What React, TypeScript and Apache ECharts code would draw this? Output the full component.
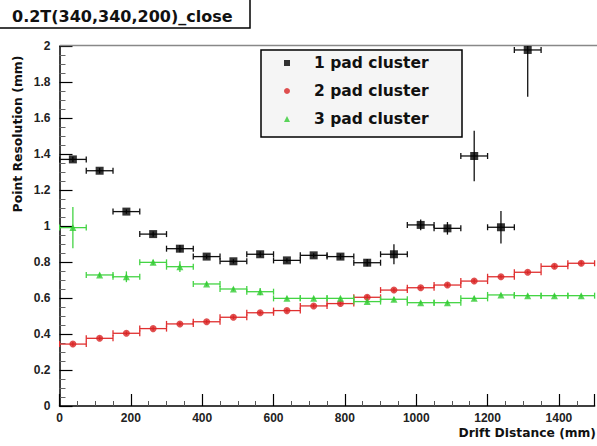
import React, { useEffect, useRef } from "react";
import * as echarts from "echarts";

// Bin centres (mm) of the drift-distance bins, each 75 mm wide
const binCenters = [
  37.5, 112.5, 187.5, 262.5, 337.5, 412.5, 487.5, 562.5, 637.5, 712.5,
  787.5, 862.5, 937.5, 1012.5, 1087.5, 1162.5, 1237.5, 1312.5, 1387.5, 1462.5,
];
const BIN_HALF = 37.5;

const seriesNames = ["1 pad cluster", "2 pad cluster", "3 pad cluster"];

const onePad = [
  1.37, 1.307, 1.08, 0.955, 0.874, 0.83, 0.804, 0.843, 0.809, 0.837, 0.83,
  0.796, 0.843, 1.006, 0.987, 1.389, 0.993, 1.978,
];
const onePadErr = [
  0.015, 0.015, 0.012, 0.015, 0.02, 0.012, 0.012, 0.015, 0.012, 0.012, 0.015,
  0.02, 0.055, 0.03, 0.035, 0.14, 0.09, 0.26,
];

const twoPad = [
  0.344, 0.376, 0.404, 0.43, 0.456, 0.468, 0.493, 0.518, 0.53, 0.556, 0.569,
  0.604, 0.644, 0.657, 0.672, 0.694, 0.718, 0.743, 0.776, 0.793,
];
const twoPadErr = [
  0.012, 0.01, 0.01, 0.01, 0.01, 0.01, 0.01, 0.01, 0.01, 0.01, 0.01, 0.012,
  0.012, 0.01, 0.012, 0.012, 0.01, 0.01, 0.012, 0.012,
];

const threePad = [
  0.991, 0.728, 0.718, 0.798, 0.774, 0.678, 0.65, 0.635, 0.598, 0.598, 0.598,
  0.58, 0.593, 0.574, 0.574, 0.598, 0.617, 0.613, 0.613, 0.613,
];
const threePadErr = [
  0.115, 0.012, 0.03, 0.015, 0.03, 0.012, 0.01, 0.02, 0.01, 0.01, 0.01, 0.01,
  0.012, 0.01, 0.01, 0.012, 0.01, 0.01, 0.01, 0.01,
];

const xTicks = [0, 200, 400, 600, 800, 1000, 1200, 1400];
const yTicks = [0, 0.2, 0.4, 0.6, 0.8, 1, 1.2, 1.4, 1.6, 1.8, 2];

const colors = ["#000000", "#d82424", "#33cc33"];
const errColors = ["#111111", "#e03030", "#44d444"];

const TITLE = "0.2T(340,340,200)_close";
const X_TITLE = "Drift Distance (mm)";
const Y_TITLE = "Point Resolution (mm)";

function makeErrSeries(vals: number[], errs: number[], color: string) {
  return {
    type: "custom",
    clip: true,
    silent: true,
    z: 2,
    data: vals.map((v, i) => [binCenters[i], v, errs[i]]),
    renderItem: (params: any, api: any) => {
      const x = api.value(0);
      const y = api.value(1);
      const e = api.value(2);
      const l = api.coord([x - BIN_HALF, y]);
      const r = api.coord([x + BIN_HALF, y]);
      const t = api.coord([x, y + e]);
      const b = api.coord([x, y - e]);
      const st = { stroke: color, lineWidth: 1.3 };
      const cap = 3;
      return {
        type: "group",
        children: [
          { type: "line", shape: { x1: l[0], y1: l[1], x2: r[0], y2: r[1] }, style: st },
          { type: "line", shape: { x1: t[0], y1: t[1], x2: b[0], y2: b[1] }, style: st },
          { type: "line", shape: { x1: l[0], y1: l[1] - cap, x2: l[0], y2: l[1] + cap }, style: st },
          { type: "line", shape: { x1: r[0], y1: r[1] - cap, x2: r[0], y2: r[1] + cap }, style: st },
        ],
      };
    },
  };
}

export default function App() {
  const ref = useRef<HTMLDivElement>(null);
  useEffect(() => {
    if (!ref.current) return;
    const chart = echarts.init(ref.current, null, { renderer: "svg" });
    const tickFont = {
      fontFamily: "Liberation Sans",
      fontWeight: "bold" as const,
      fontSize: 12,
      color: "#222",
    };
    chart.setOption({
      animation: false,
      backgroundColor: "#ffffff",
      grid: { left: 59.5, right: 2.4, top: 46, bottom: 40, containLabel: false },
      xAxis: {
        type: "value",
        min: 0,
        max: 1500,
        interval: 200,
        axisLine: { show: true, onZero: false, lineStyle: { color: "#000", width: 1.5 } },
        axisTick: { show: true, inside: true, length: 12, lineStyle: { color: "#000", width: 1.2 } },
        minorTick: { show: true, splitNumber: 4, length: 5, lineStyle: { color: "#555", width: 1 } },
        splitLine: { show: false },
        axisLabel: {
          ...tickFont,
          margin: 6,
          showMaxLabel: false,
          formatter: (v: number) => (xTicks.indexOf(v) >= 0 ? String(v) : ""),
        },
      },
      yAxis: {
        type: "value",
        min: 0,
        max: 2,
        interval: 0.2,
        axisLine: { show: true, onZero: false, lineStyle: { color: "#000", width: 1.5 } },
        axisTick: { show: true, inside: true, length: 13, lineStyle: { color: "#000", width: 1.2 } },
        minorTick: { show: true, splitNumber: 4, length: 6, lineStyle: { color: "#666", width: 1 } },
        splitLine: { show: false },
        axisLabel: {
          ...tickFont,
          margin: 9,
          formatter: (v: number) => {
            const m = yTicks.find((t) => Math.abs(t - v) < 1e-6);
            return m === undefined ? "" : String(m);
          },
        },
      },
      legend: {
        orient: "vertical",
        left: 284,
        top: 55,
        padding: 0,
        itemWidth: 6,
        itemHeight: 6,
        itemGap: 12,
        z: 10,
        selectedMode: false,
        data: seriesNames,
        textStyle: {
          fontFamily: "DejaVu Sans",
          fontWeight: "bold",
          fontSize: 15.5,
          lineHeight: 16,
          color: "#111",
          padding: [0, 0, 0, 19],
        },
      },
      graphic: [
        {
          type: "rect",
          z: 1,
          shape: { x: 261, y: 50, width: 201, height: 87 },
          style: { fill: "#f5f5f5", stroke: "#000", lineWidth: 1.5 },
        },
        {
          type: "rect",
          z: 1,
          shape: { x: -2, y: -1, width: 252, height: 29 },
          style: { fill: "#fff", stroke: "#000", lineWidth: 1.5 },
        },
        {
          type: "text",
          z: 2,
          x: 12,
          y: 16,
          style: {
            text: TITLE,
            fontFamily: "DejaVu Sans",
            fontWeight: "bold",
            fontSize: 16,
            fill: "#111",
            align: "left",
            verticalAlign: "middle",
          },
        },
        {
          type: "line",
          z: 1,
          shape: { x1: 60, y1: 45.5, x2: 597, y2: 45.5 },
          style: { stroke: "#888", lineWidth: 1.5 },
        },
        {
          type: "text",
          z: 2,
          x: 596,
          y: 433,
          style: {
            text: X_TITLE,
            fontFamily: "DejaVu Sans",
            fontWeight: "bold",
            fontSize: 12.3,
            fill: "#111",
            align: "right",
            verticalAlign: "middle",
          },
        },
        {
          type: "text",
          z: 2,
          x: 17.5,
          y: 134,
          rotation: Math.PI / 2,
          style: {
            text: Y_TITLE,
            fontFamily: "DejaVu Sans",
            fontWeight: "bold",
            fontSize: 12.4,
            fill: "#111",
            align: "center",
            verticalAlign: "middle",
          },
        },
      ],
      series: [
        makeErrSeries(onePad, onePadErr, errColors[0]),
        makeErrSeries(twoPad, twoPadErr, errColors[1]),
        makeErrSeries(threePad, threePadErr, errColors[2]),
        {
          name: seriesNames[0],
          type: "scatter",
          symbol: "rect",
          symbolSize: 8,
          z: 3,
          itemStyle: { color: colors[0] },
          data: onePad.map((v, i) => [binCenters[i], v]),
        },
        {
          name: seriesNames[1],
          type: "scatter",
          symbol: "circle",
          symbolSize: 7,
          z: 3,
          itemStyle: { color: colors[1] },
          data: twoPad.map((v, i) => [binCenters[i], v]),
        },
        {
          name: seriesNames[2],
          type: "scatter",
          symbol: "triangle",
          symbolSize: 7,
          z: 3,
          itemStyle: { color: colors[2] },
          data: threePad.map((v, i) => [binCenters[i], v]),
        },
      ],
    });
    return () => chart.dispose();
  }, []);
  return (
    <div
      ref={ref}
      style={{ position: "fixed", left: 0, top: 0, width: 597, height: 446, background: "#fff" }}
    />
  );
}
